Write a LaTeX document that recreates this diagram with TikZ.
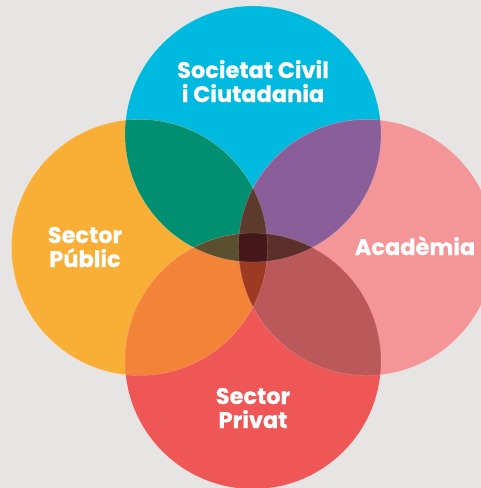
\documentclass[tikz,border=0pt]{standalone}
\usepackage{fontspec}
\setmainfont{Poppins}[BoldFeatures={FakeBold=0.6}]
\definecolor{bg}{HTML}{E7E5E3}
\definecolor{cTop}{HTML}{00B9DF}
\definecolor{cLeft}{HTML}{F9AF36}
\definecolor{cRight}{HTML}{F49698}
\definecolor{cBot}{HTML}{EF5656}
\definecolor{cTL}{HTML}{008F70}
\definecolor{cTR}{HTML}{8A5E98}
\definecolor{cBL}{HTML}{F38336}
\definecolor{cBR}{HTML}{BB5859}
\definecolor{cTBL}{HTML}{5A4F2F}
\definecolor{cTBR}{HTML}{5C302A}
\definecolor{cLRT}{HTML}{5C3A2C}
\definecolor{cLRB}{HTML}{9C3B22}
\definecolor{cAll}{HTML}{44181A}
\tikzset{
  lbl/.style={text=white, font=\fontsize{22.5}{24}\selectfont\bfseries, inner sep=0pt, anchor=base},
  rim/.style={draw=white, draw opacity=0.25, line width=0.4pt}
}
\begin{document}
\begin{tikzpicture}[x=1pt,y=-1pt]
\fill[bg] (0,0) rectangle (481,488);
\useasboundingbox (0,0) rectangle (481,488);
\coordinate (T) at (253,134);
\coordinate (B) at (253,361);
\coordinate (L) at (139.5,247.5);
\coordinate (R) at (366.5,247.5);
\def\rr{128}
\begin{scope}
\clip (0,0) rectangle (481,488);
\fill[cTop] (T) circle (\rr);
\fill[cLeft] (L) circle (\rr);
\fill[cRight] (R) circle (\rr);
\fill[cBot] (B) circle (\rr);
% pairwise
\begin{scope}\clip (T) circle (\rr); \fill[cTL] (L) circle (\rr);\end{scope}
\begin{scope}\clip (T) circle (\rr); \fill[cTR] (R) circle (\rr);\end{scope}
\begin{scope}\clip (B) circle (\rr); \fill[cBL] (L) circle (\rr);\end{scope}
\begin{scope}\clip (B) circle (\rr); \fill[cBR] (R) circle (\rr);\end{scope}
% triples
\begin{scope}\clip (T) circle (\rr); \clip (B) circle (\rr); \fill[cTBL] (L) circle (\rr);\end{scope}
\begin{scope}\clip (T) circle (\rr); \clip (B) circle (\rr); \fill[cTBR] (R) circle (\rr);\end{scope}
\begin{scope}\clip (L) circle (\rr); \clip (R) circle (\rr); \fill[cLRT] (T) circle (\rr);\end{scope}
\begin{scope}\clip (L) circle (\rr); \clip (R) circle (\rr); \fill[cLRB] (B) circle (\rr);\end{scope}
% all four
\begin{scope}\clip (L) circle (\rr); \clip (R) circle (\rr); \clip (T) circle (\rr); \fill[cAll] (B) circle (\rr);\end{scope}
% faint rims
\draw[rim] (T) circle (\rr);
\draw[rim] (L) circle (\rr);
\draw[rim] (R) circle (\rr);
\draw[rim] (B) circle (\rr);
\end{scope}
% labels
\node[lbl] (sc1) at (253,78) {Societat Civil};
\node[lbl] (sc2) at (253,102) {i Ciutadania};
\node[lbl] (sp1) at (85,243) {Sector};
\node[lbl] (sp2) at (85,267) {Públic};
\node[lbl] (ac) at (415,255) {Acadèmia};
\node[lbl] (pr1) at (253,404) {Sector};
\node[lbl] (pr2) at (253,428) {Privat};
\end{tikzpicture}
\end{document}
